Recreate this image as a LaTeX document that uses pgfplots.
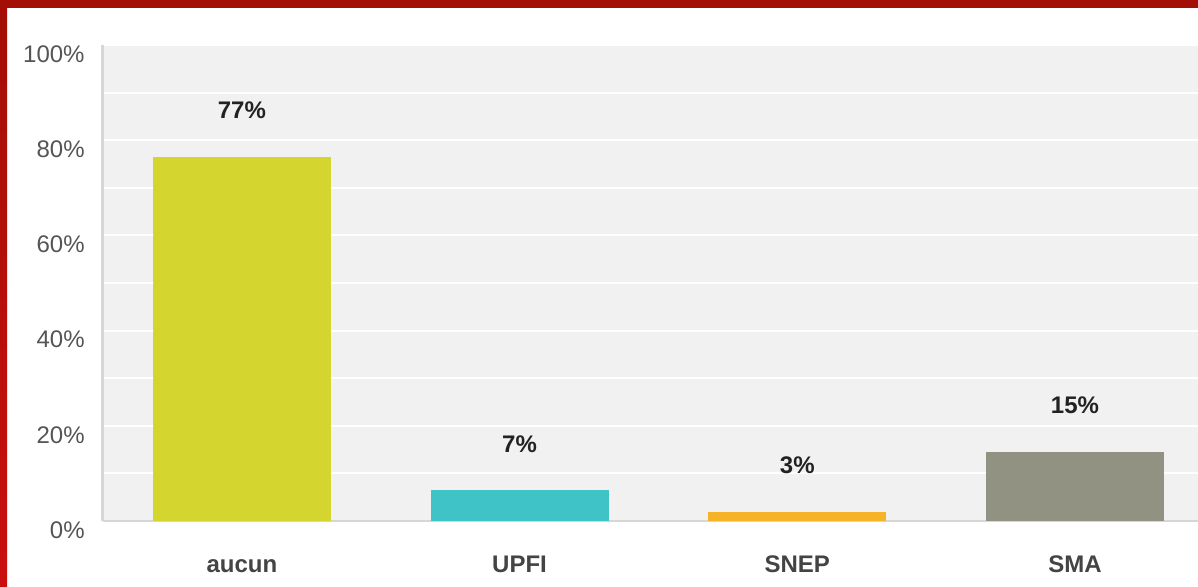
\documentclass[border=0pt]{standalone}
\usepackage{fontspec}
\setmainfont{Liberation Sans}
\usepackage{pgfplots}
\pgfplotsset{compat=1.18}

\definecolor{frametop}{HTML}{A30E06}
\definecolor{framebot}{HTML}{C9100F}
\definecolor{plotbg}{HTML}{F1F1F1}
\definecolor{axisgray}{HTML}{D6D6D6}
\definecolor{tickgray}{HTML}{555555}
\definecolor{catgray}{HTML}{444444}
\definecolor{labelblack}{HTML}{222222}
\definecolor{caucun}{HTML}{D4D62F}
\definecolor{cupfi}{HTML}{3FC3C6}
\definecolor{csnep}{HTML}{F6B327}
\definecolor{csma}{HTML}{929283}

\begin{document}
\begin{tikzpicture}
% page size 1198 x 586 px at 0.5pt per px
\path[use as bounding box, fill=white] (0pt,0pt) rectangle (599pt,-293pt);

\begin{axis}[
    at={(51.5pt,-260.5pt)}, anchor=south west,
    scale only axis,
    width=547.5pt, height=238pt,
    xmin=-0.5, xmax=3.443,
    ymin=0, ymax=100,
    axis background/.style={fill=plotbg},
    axis x line*=bottom, axis y line*=left,
    x axis line style={draw=axisgray, line width=1pt},
    y axis line style={draw=axisgray, line width=1.5pt},
    xtick={0,1,2,3},
    xticklabels={aucun,UPFI,SNEP,SMA},
    ytick={0,20,...,100},
    minor ytick={10,30,...,90},
    ymajorgrids, yminorgrids,
    major grid style={white, line width=1pt},
    minor grid style={white, line width=1pt},
    major tick length=0pt, minor tick length=0pt,
    /pgf/number format/assume math mode=true,
    yticklabel={\pgfmathprintnumber{\tick}\%},
    yticklabel style={font=\fontsize{12}{14}\selectfont, text=tickgray,
        anchor=east, inner sep=0pt, xshift=-9pt, yshift=-4.5pt},
    xticklabel style={font=\fontsize{12}{14}\selectfont\bfseries, text=catgray,
        anchor=base, inner sep=0pt, yshift=-25.5pt},
    ybar, bar width=89pt, bar shift=0pt,
    point meta=explicit,
    nodes near coords={\pgfmathprintnumber{\pgfplotspointmeta}\%},
    nodes near coords style={font=\fontsize{12}{14}\selectfont\bfseries,
        text=labelblack, anchor=base, inner sep=0pt, yshift=19pt},
]
% bar heights as drawn, labels as printed
\addplot[fill=caucun, draw=none] coordinates {(0,76.5) [77]};
\addplot[fill=cupfi, draw=none] coordinates {(1,6.5) [7]};
\addplot[fill=csnep, draw=none] coordinates {(2,1.9) [3]};
\addplot[fill=csma, draw=none] coordinates {(3,14.5) [15]};
\end{axis}

% red frame, top and left
\fill[frametop] (0pt,0pt) rectangle (599pt,-4pt);
\shade[top color=frametop, bottom color=framebot] (0pt,0pt) rectangle (3.5pt,-293pt);
\end{tikzpicture}
\end{document}
